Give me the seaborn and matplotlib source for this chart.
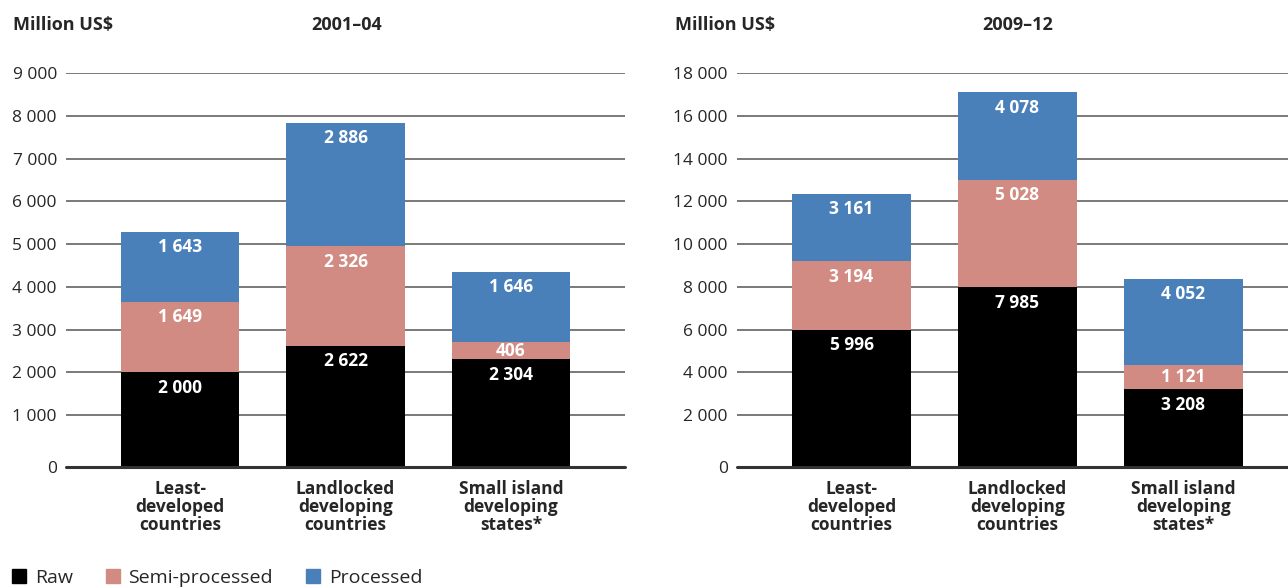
import matplotlib
matplotlib.use("Agg")
import matplotlib.pyplot as plt
import seaborn as sns
import pandas as pd
from matplotlib.patches import Patch

# categories and values (million US$)
cats = ["Least-\ndeveloped\ncountries", "Landlocked\ndeveloping\ncountries", "Small island\ndeveloping\nstates*"]
periods = ["2001\u201304", "2009\u201312"]
raw = {"2001\u201304": [2000, 2622, 2304], "2009\u201312": [5996, 7985, 3208]}
semi = {"2001\u201304": [1649, 2326, 406], "2009\u201312": [3194, 5028, 1121]}
proc = {"2001\u201304": [1643, 2886, 1646], "2009\u201312": [3161, 4078, 4052]}
yticks = {"2001\u201304": list(range(0, 9001, 1000)), "2009\u201312": list(range(0, 18001, 2000))}

c_raw = "#000000"
c_semi = "#d28b82"
c_proc = "#4a80ba"

sns.set_style("white")
plt.rcParams["font.family"] = ["Open Sans", "DejaVu Sans"]

fig = plt.figure(figsize=(12.88, 5.88), dpi=100)
W, H = 1288, 588
boxes = [(66, 625, 2.69), (737, 1288, 2.63)]
top_px, bot_px = 73, 467
title_x = [(13, 347), (675, 1018)]


def fmt(v):
    return f"{v:,}".replace(",", " ")


for (x0, x1, xr), (tx, cx), per in zip(boxes, title_x, periods):
    ax = fig.add_axes([x0 / W, 1 - bot_px / H, (x1 - x0) / W, (bot_px - top_px) / H])
    df = pd.DataFrame({"cat": cats, "raw": raw[per], "semi": semi[per], "proc": proc[per]})
    df["s2"] = df.raw + df.semi
    df["s3"] = df.s2 + df.proc
    ticks = yticks[per]
    step = ticks[1] - ticks[0]
    ymax = ticks[-1]
    # the baseline of the original sits a little below the zero of the scale
    ylo = -0.216 * step

    for col, c in [("s3", c_proc), ("s2", c_semi), ("raw", c_raw)]:
        sns.barplot(data=df, x="cat", y=col, color=c, saturation=1, width=0.717,
                    linewidth=0, ax=ax, zorder=3)
    # run the bars down to the baseline
    for p in ax.patches:
        p.set_height(p.get_height() - ylo)
        p.set_y(ylo)

    px_per_unit = (bot_px - top_px) / (ymax - ylo)
    for i, r in df.iterrows():
        for top, h in [(r.raw, r.raw), (r.s2, r.semi), (r.s3, r.proc)]:
            off = min(15.5, h * px_per_unit / 2)
            ax.annotate(fmt(h), (i, top), xytext=(0, -off * 0.72), textcoords="offset points",
                        ha="center", va="center", color="white", fontsize=12.5,
                        fontweight="bold", zorder=5)

    ax.set_ylim(ylo, ymax)
    ax.set_xlim(-0.69, xr)
    ax.set_yticks([ylo] + ticks[1:])
    ax.set_yticklabels([fmt(v) for v in ticks], fontsize=12.5)
    ax.yaxis.grid(True, color="#555555", linewidth=1.1, zorder=0)
    ax.axhline(ylo, color="#333333", linewidth=2.2, zorder=4, clip_on=False)
    ax.set_axisbelow(True)
    for s in ax.spines.values():
        s.set_visible(False)
    ax.tick_params(axis="both", length=0)
    ax.tick_params(axis="y", pad=6.5)
    ax.tick_params(axis="x", pad=9.5)
    ax.set_xticks(range(3))
    ax.set_xticklabels(cats, fontsize=12.5, fontweight="bold", linespacing=1.0)
    ax.set_xlabel("")
    ax.set_ylabel("")

    fig.text(tx / W, 1 - 25 / H, "Million US$", fontsize=13, fontweight="bold",
             ha="left", va="center")
    fig.text(cx / W, 1 - 25 / H, per, fontsize=13, fontweight="bold",
             ha="center", va="center")

handles = [Patch(color=c_raw, label="Raw"), Patch(color=c_semi, label="Semi-processed"),
           Patch(color=c_proc, label="Processed")]
fig.legend(handles=handles, loc="center left", bbox_to_anchor=(12 / W, 1 - 578 / H), ncol=3,
           frameon=False, fontsize=14, handlelength=0.72, handleheight=0.72,
           handletextpad=0.45, columnspacing=1.7, borderaxespad=0, borderpad=0)

fig.savefig("out.png", dpi=100)
